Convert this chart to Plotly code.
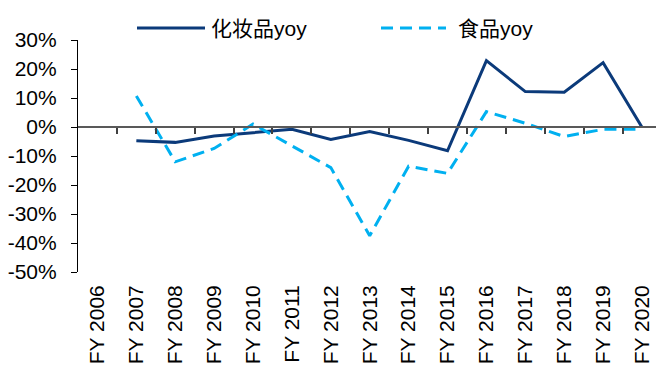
import plotly.graph_objects as go

# Fiscal years and year-over-year growth (%) of the two categories
years = ["FY 2006", "FY 2007", "FY 2008", "FY 2009", "FY 2010", "FY 2011", "FY 2012",
         "FY 2013", "FY 2014", "FY 2015", "FY 2016", "FY 2017", "FY 2018", "FY 2019", "FY 2020"]
cosmetics_yoy = [None, -4.7, -5.3, -3.1, -2.0, -0.8, -4.3, -1.6, -4.6, -8.2, 22.9, 12.2, 12.0, 22.2, -0.1]
food_yoy = [None, 10.7, -12.0, -7.4, 1.0, -6.5, -14.0, -37.5, -13.5, -16.0, 5.3, 1.3, -3.3, -0.8, -0.8]
y_ticks = [30, 20, 10, 0, -10, -20, -30, -40, -50]
y_labels = [f"{v}%" for v in y_ticks]

NAVY = "#0B3A7A"
SKY = "#00B0F0"
FONT = "Liberation Sans, Arial, Noto Sans CJK SC"

W, H = 656, 365
L, R, T, B = 78, 0, 40, 93
x_lo, x_hi = -0.5, 14.36
y_lo, y_hi = -50, 30

fig = go.Figure()
fig.add_trace(go.Scatter(x=years, y=cosmetics_yoy, mode="lines", name="化妆品yoy",
                         line=dict(color=NAVY, width=3), showlegend=False))
fig.add_trace(go.Scatter(x=years, y=food_yoy, mode="lines", name="食品yoy",
                         line=dict(color=SKY, width=3, dash="12px,7px"), showlegend=False))
# helper trace so the zero-line axis (category boundaries) gets drawn
idx = list(range(len(years)))
fig.add_trace(go.Scatter(x=idx, y=[0] * len(idx), xaxis="x2", mode="lines",
                         line=dict(width=0), opacity=0, hoverinfo="skip", showlegend=False))

zero_pos = (0 - y_lo) / (y_hi - y_lo)

fig.update_layout(
    width=W, height=H,
    margin=dict(l=L, r=R, t=T, b=B),
    paper_bgcolor="white", plot_bgcolor="white",
    font=dict(family=FONT, size=20, color="black"),
    xaxis=dict(type="category", range=[x_lo, x_hi], showgrid=False, showline=False,
               zeroline=False, ticks="", tickangle=-90, ticklabelstandoff=8,
               tickfont=dict(size=21)),
    xaxis2=dict(overlaying="x", anchor="free", position=zero_pos, range=[x_lo, x_hi],
                showgrid=False, zeroline=False, showline=True, linecolor="#595959",
                linewidth=1.5, ticks="outside", ticklen=6, tickwidth=1.5, tickcolor="#404040",
                tickvals=[i + 0.5 for i in idx[:-1]], showticklabels=False),
    yaxis=dict(range=[y_lo, y_hi], tickmode="array", tickvals=y_ticks, ticktext=y_labels,
               showgrid=False, zeroline=False, showline=True, linecolor="#000000",
               linewidth=1.2, ticks="outside", ticklen=6, tickwidth=1.2,
               tickcolor="#000000", ticklabelstandoff=10, tickfont=dict(size=21)),
)


def px_x(px):
    return (px - L) / (W - L - R)


def px_y(py):
    return (H - B - py) / (H - T - B)


# legend drawn as line samples with text
leg_y = px_y(28)
fig.add_shape(type="line", xref="paper", yref="paper", x0=px_x(137), x1=px_x(205),
              y0=leg_y, y1=leg_y, line=dict(color=NAVY, width=3))
fig.add_shape(type="line", xref="paper", yref="paper", x0=px_x(381), x1=px_x(446),
              y0=leg_y, y1=leg_y, line=dict(color=SKY, width=3, dash="12px,7px"))
fig.add_annotation(xref="paper", yref="paper", x=px_x(209), y=leg_y, text="化妆品yoy",
                   showarrow=False, xanchor="left", yanchor="middle", font=dict(size=21))
fig.add_annotation(xref="paper", yref="paper", x=px_x(456), y=leg_y, text="食品yoy",
                   showarrow=False, xanchor="left", yanchor="middle", font=dict(size=21))

fig.write_html("out.html")
